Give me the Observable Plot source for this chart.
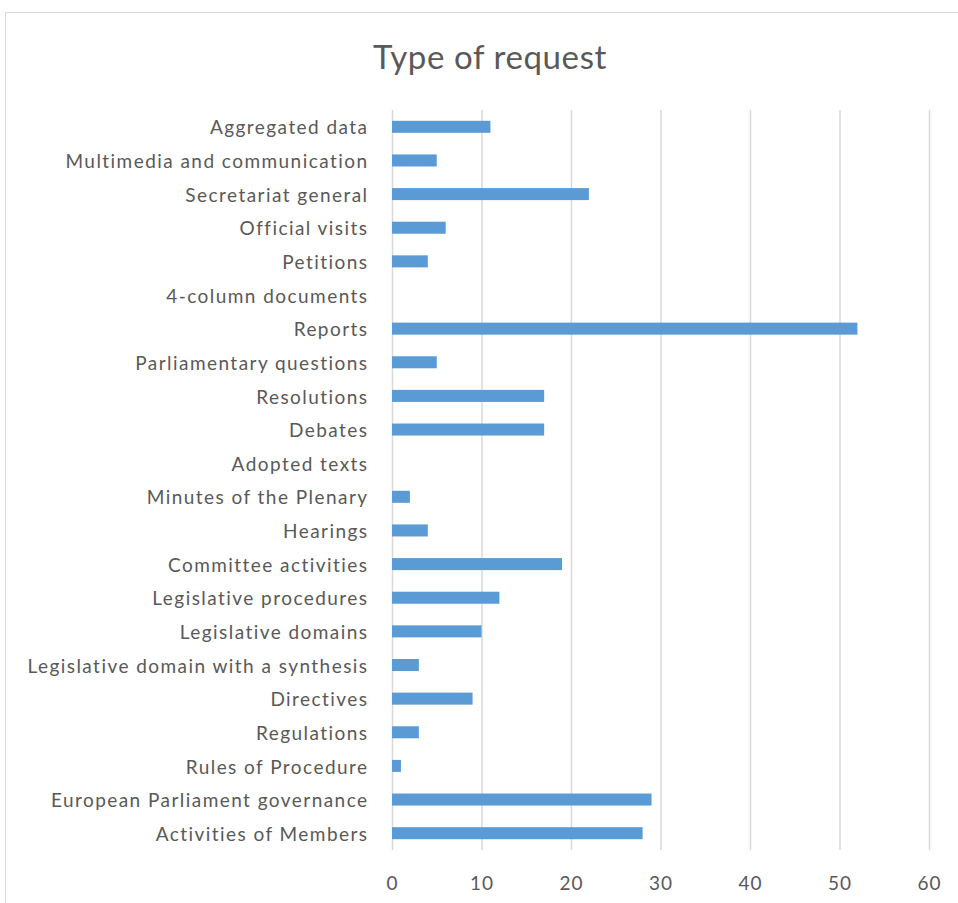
<!DOCTYPE html>
<html>
<head>
<meta charset="utf-8">
<script src="https://cdn.jsdelivr.net/npm/d3@7"></script>
<script src="https://cdn.jsdelivr.net/npm/@observablehq/plot@0.6"></script>
<style>
  html, body { margin: 0; padding: 0; background: #fff; }
  body { width: 958px; height: 903px; position: relative; overflow: hidden; font-family: Lato, sans-serif; }
  #frame { position: absolute; left: 5px; top: 12px; width: 970px; height: 900px; border: 1px solid #d9d9d9; box-sizing: border-box; }
  #title { position: absolute; left: 0; top: 36px; width: 980px; text-align: center; font-size: 33px; letter-spacing: 0.6px; color: #595959; font-family: Lato, sans-serif; }
  #chart { position: absolute; left: 0; top: 95px; }
  #chart svg g[aria-label="y-axis tick label"] text { letter-spacing: 1.45px; }
  #chart svg g[aria-label="x-axis tick label"] text { letter-spacing: 1px; }
</style>
</head>
<body>
<div id="frame"></div>
<div id="title">Type of request</div>
<div id="chart"></div>
<script>
const categories = [
  "Aggregated data",
  "Multimedia and communication",
  "Secretariat general",
  "Official visits",
  "Petitions",
  "4-column documents",
  "Reports",
  "Parliamentary questions",
  "Resolutions",
  "Debates",
  "Adopted texts",
  "Minutes of the Plenary",
  "Hearings",
  "Committee activities",
  "Legislative procedures",
  "Legislative domains",
  "Legislative domain with a synthesis",
  "Directives",
  "Regulations",
  "Rules of Procedure",
  "European Parliament governance",
  "Activities of Members"
];
const values = [11, 5, 22, 6, 4, 0, 52, 5, 17, 17, 0, 2, 4, 19, 12, 10, 3, 9, 3, 1, 29, 28];
const xTicks = [0, 10, 20, 30, 40, 50, 60];

const data = categories.map((c, i) => ({category: c, value: values[i]}));

const chart = Plot.plot({
  width: 958,
  height: 808,
  marginTop: 15,
  marginBottom: 53,
  marginLeft: 392,
  marginRight: 29,
  style: {fontFamily: "Lato, sans-serif", fontSize: "19px", color: "#595959", background: "transparent"},
  x: {domain: [0, 60], ticks: xTicks, tickSize: 0, tickPadding: 26, label: null},
  y: {domain: categories, padding: 0, round: false, tickSize: 0, tickPadding: 24, label: null},
  marks: [
    Plot.ruleX(xTicks, {stroke: "#d9d9d9", strokeWidth: 1.5}),
    Plot.barX(data, {x: "value", y: "category", fill: "#5b9bd5", insetTop: 10.8, insetBottom: 10.8}),
    Plot.axisX({ticks: xTicks, tickSize: 0, tickPadding: 26, fontSize: 19, label: null}),
    Plot.axisY({tickSize: 0, tickPadding: 24, fontSize: 19, label: null, dy: 1})
  ]
});
document.getElementById("chart").appendChild(chart);
</script>
</body>
</html>
